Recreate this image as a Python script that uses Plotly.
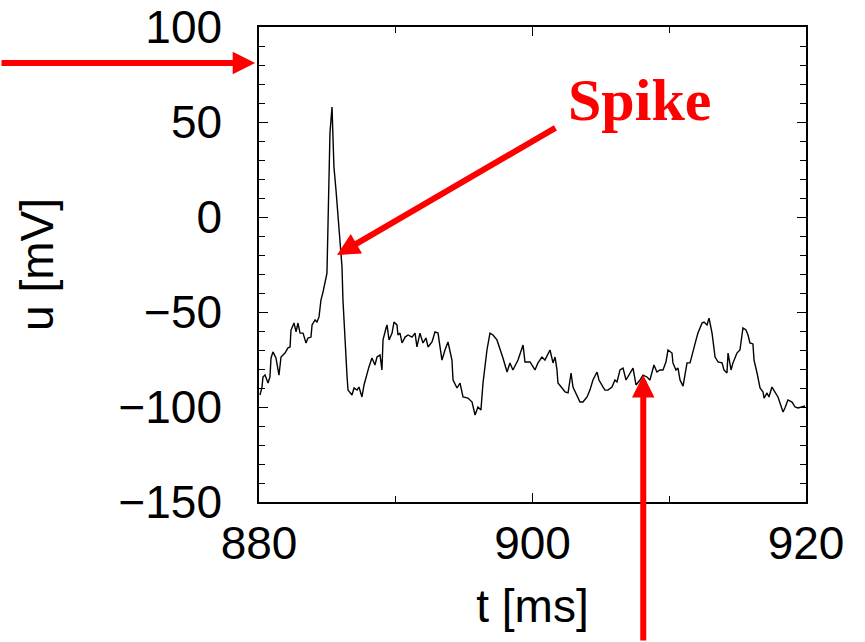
import plotly.graph_objects as go

t_ms = [880.07, 880.22, 880.29, 880.44, 880.66, 880.80, 880.88, 881.02, 881.24, 881.46,
        881.61, 881.90, 882.12, 882.27, 882.34, 882.56, 882.71, 882.85, 883.00, 883.22,
        883.44, 883.58, 883.80, 883.88, 884.10, 884.24, 884.39, 884.46, 884.53, 884.68,
        884.83, 884.97, 885.05, 885.19, 885.34, 885.41, 885.48, 885.63, 885.78, 886.00,
        886.07, 886.14, 886.29, 886.44, 886.51, 886.80, 886.95, 887.17, 887.31, 887.53,
        887.68, 887.90, 888.04, 888.26, 888.48, 888.63, 888.85, 888.99, 889.07, 889.29,
        889.36, 889.51, 889.73, 889.87, 890.09, 890.16, 890.31, 890.46, 890.68, 890.90,
        891.19, 891.41, 891.55, 891.77, 891.99, 892.21, 892.36, 892.65, 892.87, 893.09,
        893.38, 893.60, 893.82, 894.11, 894.19, 894.48, 894.70, 894.92, 895.28, 895.58,
        895.80, 896.01, 896.23, 896.38, 896.67, 896.89, 897.11, 897.40, 897.62, 897.84,
        898.14, 898.35, 898.57, 898.94, 899.31, 899.45, 899.82, 900.18, 900.40, 900.69,
        900.91, 901.28, 901.50, 901.65, 901.79, 901.86, 902.16, 902.38, 902.60, 902.82,
        902.96, 903.25, 903.47, 903.69, 903.99, 904.20, 904.42, 904.72, 904.86, 905.16,
        905.30, 905.52, 905.81, 906.03, 906.18, 906.40, 906.62, 906.84, 906.98, 907.20,
        907.35, 907.57, 907.86, 908.08, 908.37, 908.59, 908.74, 908.88, 909.10, 909.32,
        909.54, 909.76, 909.91, 910.20, 910.27, 910.49, 910.64, 910.79, 911.01, 911.15,
        911.30, 911.52, 911.74, 911.96, 912.10, 912.40, 912.54, 912.76, 912.91, 913.13,
        913.35, 913.57, 913.86, 914.00, 914.22, 914.30, 914.52, 914.66, 914.95, 915.17,
        915.39, 915.61, 915.76, 915.90, 916.12, 916.20, 916.42, 916.64, 916.86, 916.93,
        917.15, 917.29, 917.51, 917.66, 917.95, 918.10, 918.32, 918.46, 918.68, 918.98,
        919.20, 919.42, 919.71, 919.93]

u_mv = [-93.7, -89.5, -84.2, -83.2, -87.4, -84.2, -74.2, -71.0, -74.2, -83.2,
        -73.7, -71.6, -68.9, -68.4, -59.5, -55.8, -60.5, -55.8, -61.1, -61.1,
        -66.3, -63.7, -63.2, -56.8, -54.2, -55.3, -52.6, -47.4, -43.7, -39.5,
        -34.7, -29.5, -2.6, 44.2, 57.9, 42.1, 26.3, 14.2, 0.0, -17.4,
        -26.3, -43.7, -68.4, -84.2, -91.1, -93.7, -90.0, -91.1, -89.5, -94.7,
        -88.4, -82.1, -78.9, -74.2, -77.9, -73.7, -72.6, -80.5, -64.7, -58.4,
        -56.8, -64.7, -61.1, -55.3, -56.8, -62.1, -61.1, -66.3, -63.2, -62.1,
        -63.2, -61.1, -68.4, -61.1, -66.3, -63.7, -68.4, -65.8, -60.5, -61.1,
        -75.3, -70.0, -65.8, -75.3, -85.8, -90.0, -87.4, -94.7, -95.3, -97.4,
        -104.2, -100.0, -101.6, -87.4, -70.0, -61.1, -62.1, -64.7, -68.9, -74.2,
        -81.6, -76.8, -80.5, -75.3, -67.4, -76.3, -76.3, -80.5, -76.8, -73.7,
        -75.3, -70.0, -76.8, -73.7, -80.5, -87.4, -90.0, -92.1, -92.6, -82.1,
        -89.5, -93.7, -97.4, -97.4, -94.7, -91.1, -85.8, -81.6, -85.8, -89.5,
        -91.1, -91.1, -89.5, -85.8, -86.8, -80.5, -79.5, -85.8, -84.2, -81.6,
        -79.5, -88.4, -85.8, -83.2, -84.2, -85.8, -82.1, -77.9, -81.6, -80.5,
        -80.5, -76.3, -70.0, -71.6, -76.8, -80.5, -79.5, -85.8, -89.0, -82.1,
        -76.8, -76.8, -70.0, -64.7, -61.1, -55.8, -55.3, -56.8, -53.2, -61.1,
        -73.7, -76.3, -76.8, -80.5, -82.1, -71.6, -80.5, -76.8, -71.6, -70.0,
        -58.4, -59.5, -62.1, -66.3, -66.8, -75.3, -82.1, -90.0, -92.1, -95.3,
        -92.6, -94.7, -89.5, -91.1, -94.7, -97.9, -102.6, -100.5, -96.3, -97.4,
        -100.0, -100.5, -100.0, -99.5]

x_title = "t [ms]"
y_title = "u [mV]"
label_text = "Spike"

# arrow targets
spike_arrow_tip = (885.7, -20.0)   # data coords
v_arrow_tip = (908.1, -83.2)       # data coords
h_arrow_tip_paper = (-0.007, 0.924)  # just left of the y axis, pointing at it
spike_label_paper = (0.6965, 0.846)

font_family = "Liberation Sans, Arial, Helvetica, sans-serif"
red = "#ff0000"

fig = go.Figure()
fig.add_trace(go.Scatter(x=t_ms, y=u_mv, mode="lines",
                         line=dict(color="black", width=1.4),
                         showlegend=False, hoverinfo="skip"))

axis_common = dict(showline=True, linecolor="black", linewidth=1.5, mirror="allticks",
                   ticks="inside", ticklen=9, tickwidth=1.2, tickcolor="black",
                   showgrid=False, zeroline=False, automargin=False,
                   tickfont=dict(family=font_family, size=46, color="black"))

fig.update_xaxes(range=[880, 920], tick0=880, dtick=20,
                 minor=dict(dtick=10, ticks="inside", ticklen=6, tickcolor="black", tickwidth=1.2),
                 ticklabelstandoff=0,
                 title=dict(text=x_title, font=dict(family=font_family, size=46, color="black"), standoff=22),
                 **axis_common)
fig.update_yaxes(range=[-150, 100], tick0=0, dtick=50,
                 minor=dict(dtick=10, ticks="inside", ticklen=6, tickcolor="black", tickwidth=1.2),
                 ticklabelstandoff=26,
                 title=dict(text=y_title, font=dict(family=font_family, size=46, color="black"), standoff=50),
                 **axis_common)

fig.add_annotation(x=h_arrow_tip_paper[0], y=h_arrow_tip_paper[1], xref="paper", yref="paper",
                   ax=-260, ay=0, text="",
                   showarrow=True, arrowhead=2, arrowsize=0.75, arrowwidth=6, arrowcolor=red)
fig.add_annotation(x=spike_arrow_tip[0], y=spike_arrow_tip[1], xref="x", yref="y",
                   ax=220, ay=-128, text="",
                   showarrow=True, arrowhead=2, arrowsize=0.75, arrowwidth=6, arrowcolor=red)
fig.add_annotation(x=v_arrow_tip[0], y=v_arrow_tip[1], xref="x", yref="y",
                   ax=0, ay=280, text="",
                   showarrow=True, arrowhead=2, arrowsize=0.75, arrowwidth=6, arrowcolor=red)
fig.add_annotation(x=spike_label_paper[0], y=spike_label_paper[1], xref="paper", yref="paper",
                   text="<b>" + label_text + "</b>", showarrow=False,
                   font=dict(family="Liberation Serif, Times New Roman, serif", size=60, color=red),
                   xanchor="center", yanchor="middle")

fig.update_layout(width=865, height=642, paper_bgcolor="white", plot_bgcolor="white",
                  margin=dict(l=259, r=59, t=27, b=140))

fig.write_html("out.html")
